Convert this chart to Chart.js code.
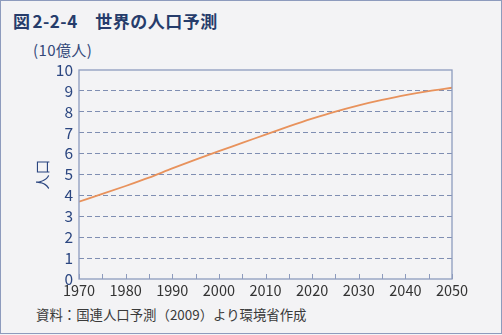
<!DOCTYPE html>
<html><head><meta charset="utf-8">
<script src="https://cdn.jsdelivr.net/npm/chart.js@4/dist/chart.umd.min.js"></script>
<style>
html,body{margin:0;padding:0;background:#f3f3f5;}
#frame{position:absolute;left:0;top:0;width:500px;height:332px;border:1px solid #8d9bbd;background:#f3f3f5;overflow:hidden;font-family:"Noto Sans CJK JP","Noto Sans",sans-serif;}
#title{position:absolute;left:12px;top:7px;font-size:17px;font-weight:bold;color:#263c6b;white-space:pre;letter-spacing:0.5px;}
#title .n{margin-left:2px;}
#unit{position:absolute;left:32px;top:38px;font-size:15px;letter-spacing:0.4px;color:#34497a;white-space:pre;}
#src{position:absolute;left:35px;top:303px;font-size:13.4px;color:#3a3a3a;white-space:pre;}
canvas{position:absolute;left:0;top:0;}
</style></head>
<body>
<div id="frame">
<div id="title">図<span class="n">2-2-4</span>　世界の人口予測</div>
<div id="unit">(10億人)</div>
<div id="src">資料：国連人口予測（2009）より環境省作成</div>
<canvas id="c" width="502" height="335"></canvas>
</div>
<script>
const years = [1970,1975,1980,1985,1990,1995,2000,2005,2010,2015,2020,2025,2030,2035,2040,2045,2050];
const population = [3.70,4.07,4.45,4.85,5.29,5.71,6.12,6.51,6.91,7.30,7.67,8.01,8.31,8.57,8.80,8.99,9.15];
const xTickLabels = ['1970','1980','1990','2000','2010','2020','2030','2040','2050'];
const yTicks = [0,1,2,3,4,5,6,7,8,9,10];
const yAxisTitle = '人口';

const frameColor = '#8d9bbd';
const boxPlugin = {
  id:'box',
  afterDatasetsDraw(chart){
    const {ctx, chartArea:a, scales:{x}} = chart;
    ctx.save();
    ctx.strokeStyle = frameColor;
    ctx.lineWidth = 1.3;
    ctx.strokeRect(a.left, a.top, a.right-a.left, a.bottom-a.top);
    ctx.lineWidth = 1;
    ctx.beginPath();
    years.forEach(y=>{
      const px = Math.round(x.getPixelForValue(y))+0.5;
      ctx.moveTo(px, a.bottom);
      ctx.lineTo(px, a.bottom-5);
    });
    ctx.stroke();
    ctx.restore();
  }
};

new Chart(document.getElementById('c'), {
  type:'line',
  data:{
    labels: years,
    datasets:[{
      data: years.map((y,i)=>({x:y,y:population[i]})),
      borderColor:'#e8925c',
      borderWidth:1.8,
      pointRadius:0,
      cubicInterpolationMode:'monotone',
      fill:false
    }]
  },
  options:{
    responsive:false,
    animation:false,
    devicePixelRatio:1,
    layout:{padding:{left:30,top:69,right:51,bottom:27}},
    plugins:{legend:{display:false},tooltip:{enabled:false}},
    scales:{
      x:{
        type:'linear',min:1970,max:2050,
        afterFit(s){s.height=30;},
        afterBuildTicks(s){s.ticks = xTickLabels.map(v=>({value:+v}));},
        ticks:{autoSkip:false,maxRotation:0,padding:3,color:'#333333',
          font:{family:'"Noto Sans CJK JP","Noto Sans",sans-serif',size:14.5},
          callback:(v)=>String(v)},
        grid:{display:false,drawTicks:false},
        border:{display:false}
      },
      y:{
        min:0,max:10,
        afterFit(s){s.width=48;},
        afterBuildTicks(s){s.ticks = yTicks.map(v=>({value:v}));},
        ticks:{autoSkip:false,padding:6,color:'#2b4680',
          font:{family:'"Noto Sans CJK JP","Noto Sans",sans-serif',size:15.5}},
        grid:{drawTicks:false,
          color:(c)=> (c.tick && (c.tick.value===0||c.tick.value===10)) ? 'rgba(0,0,0,0)' : '#7f8eb2',
          lineWidth:1},
        border:{display:false,dash:[5,3]},
        title:{display:true,text:yAxisTitle,color:'#2b4680',padding:{top:2,bottom:0},
          font:{family:'"Noto Sans CJK JP",sans-serif',size:15}}
      }
    }
  },
  plugins:[boxPlugin]
});
</script>
</body></html>
